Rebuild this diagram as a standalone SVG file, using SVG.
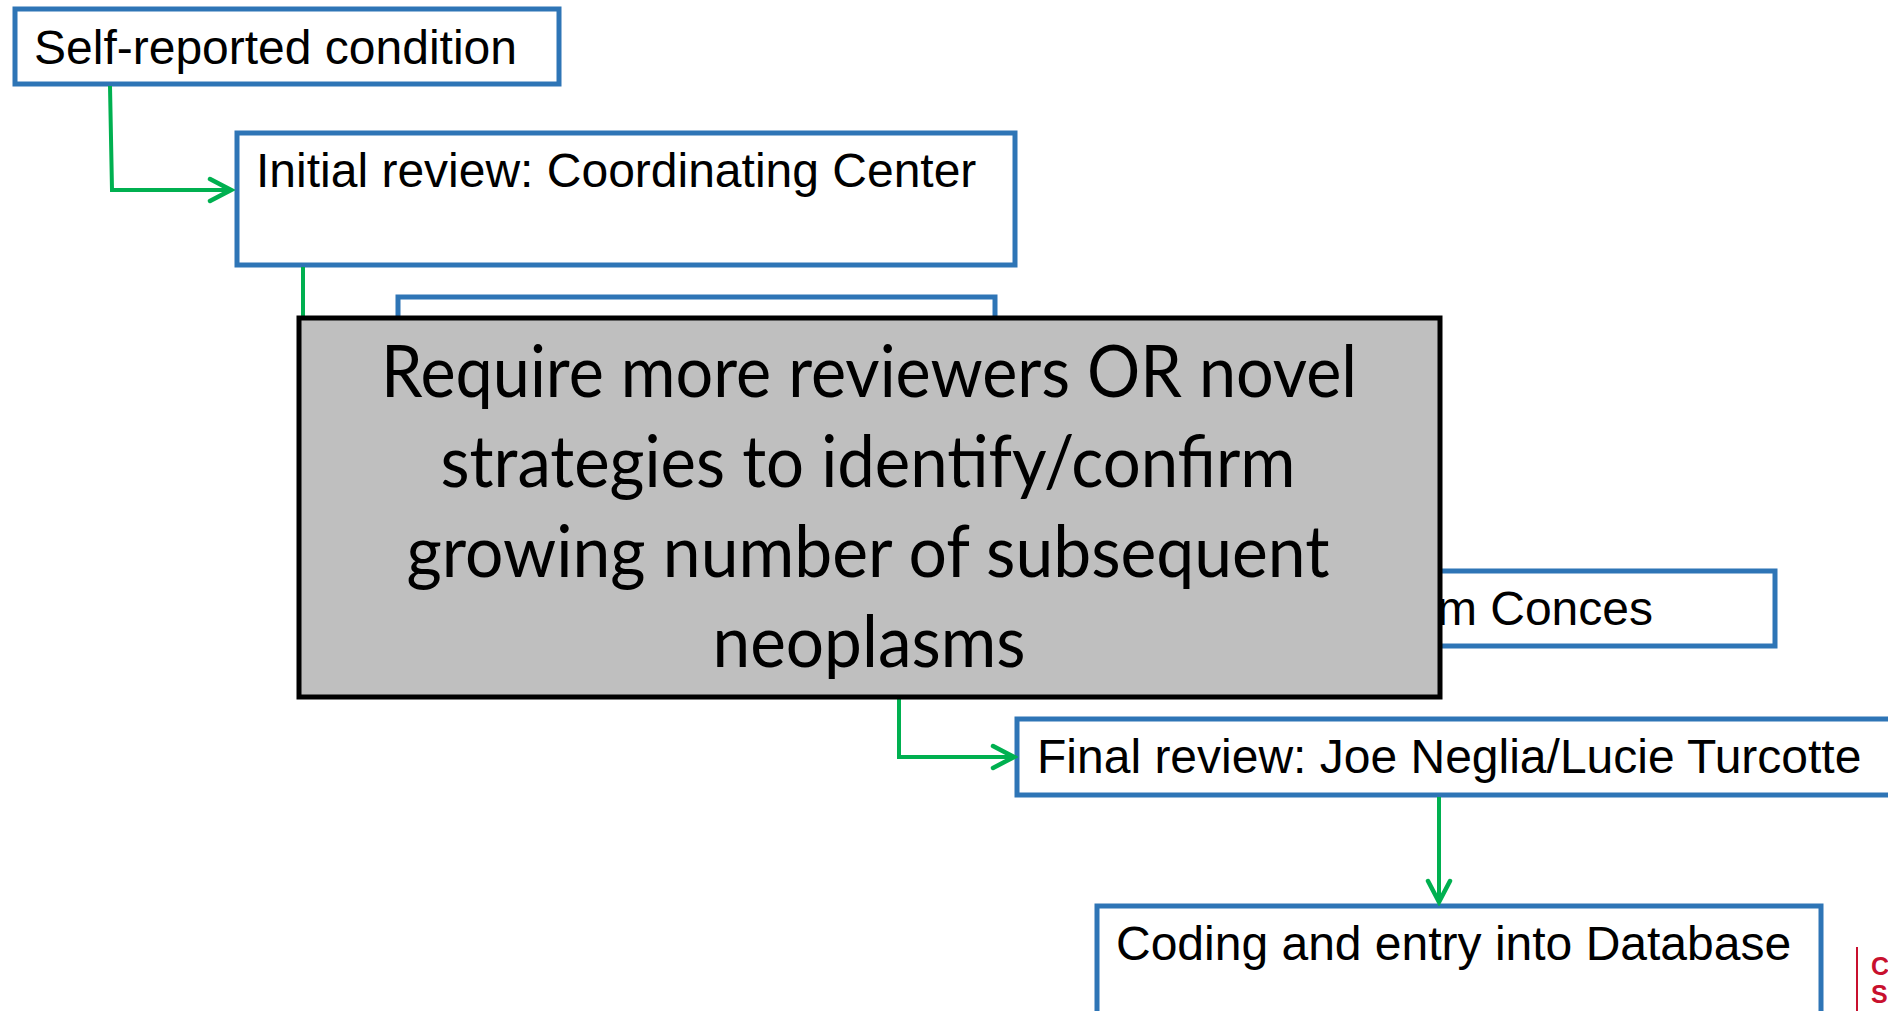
<svg xmlns="http://www.w3.org/2000/svg" width="1888" height="1011" viewBox="0 0 1888 1011">
  <style>
    .box { fill: #ffffff; stroke: #2e75b6; stroke-width: 5; }
    .lbl { font-family: "Liberation Sans", Arial, sans-serif; font-size: 48px; fill: #000000; }
    .wire { fill: none; stroke: #00b050; stroke-width: 4; stroke-linejoin: miter; }
    .callout { fill: #bfbfbf; stroke: #000000; stroke-width: 5; }
    .callout-text { font-family: Lato, "Open Sans", sans-serif; font-size: 72px; fill: #000000; text-anchor: middle; }
    .mark { font-family: "Liberation Sans", Arial, sans-serif; font-weight: bold; font-size: 25px; fill: #c8102e; }
  </style>
  <defs>
    <marker id="chevron" markerUnits="userSpaceOnUse" markerWidth="30" markerHeight="30" viewBox="-26 -15 30 30" refX="0" refY="0" orient="auto">
      <path d="M-21,-11 L0,0 L-21,11" fill="none" stroke="#00b050" stroke-width="4.5" stroke-linecap="round" stroke-linejoin="miter"/>
    </marker>
  </defs>

  <rect width="1888" height="1011" fill="#ffffff"/>

  <!-- flow boxes -->
  <g id="node-self-reported">
    <rect class="box" x="15" y="9" width="544" height="75"/>
    <text class="lbl" x="34" y="64">Self-reported condition</text>
  </g>
  <g id="node-initial-review">
    <rect class="box" x="237" y="133" width="778" height="132"/>
    <text class="lbl" x="256" y="187">Initial review: Coordinating Center</text>
  </g>
  <g id="node-second-review">
    <rect class="box" x="398" y="297" width="597" height="120"/>
  </g>
  <g id="node-pathology-review">
    <rect class="box" x="1000" y="571" width="775" height="75"/>
    <text class="lbl" x="1653" y="625" text-anchor="end">m Conces</text>
  </g>
  <g id="node-final-review">
    <rect class="box" x="1017" y="719" width="900" height="76"/>
    <text class="lbl" x="1037" y="773">Final review: Joe Neglia/Lucie Turcotte</text>
  </g>
  <g id="node-coding">
    <rect class="box" x="1097" y="906" width="724" height="130"/>
    <text class="lbl" x="1116" y="960">Coding and entry into Database</text>
  </g>

  <!-- connectors -->
  <g id="connectors">
    <path class="wire" d="M110,86 L112,190 L231,190" marker-end="url(#chevron)"/>
    <path class="wire" d="M303,267 L303,330"/>
    <path class="wire" d="M899,690 L899,757 L1014,757" marker-end="url(#chevron)"/>
    <path class="wire" d="M1439,797 L1439,902" marker-end="url(#chevron)"/>
  </g>

  <!-- overlay callout -->
  <g id="node-callout">
    <rect class="callout" x="299" y="318" width="1141" height="379"/>
    <text class="callout-text" x="869" y="397" textLength="976" lengthAdjust="spacingAndGlyphs">Require more reviewers OR novel</text>
    <text class="callout-text" x="868" y="487" textLength="855" lengthAdjust="spacingAndGlyphs">strategies to identify/confirm</text>
    <text class="callout-text" x="868" y="577" textLength="923" lengthAdjust="spacingAndGlyphs">growing number of subsequent</text>
    <text class="callout-text" x="869" y="667" textLength="313" lengthAdjust="spacingAndGlyphs">neoplasms</text>
  </g>

  <!-- corner mark -->
  <g id="corner-mark">
    <line x1="1857" y1="947" x2="1857" y2="1011" stroke="#c8102e" stroke-width="2"/>
    <text class="mark" x="1871" y="975">C</text>
    <text class="mark" x="1871" y="1003">S</text>
  </g>
</svg>
